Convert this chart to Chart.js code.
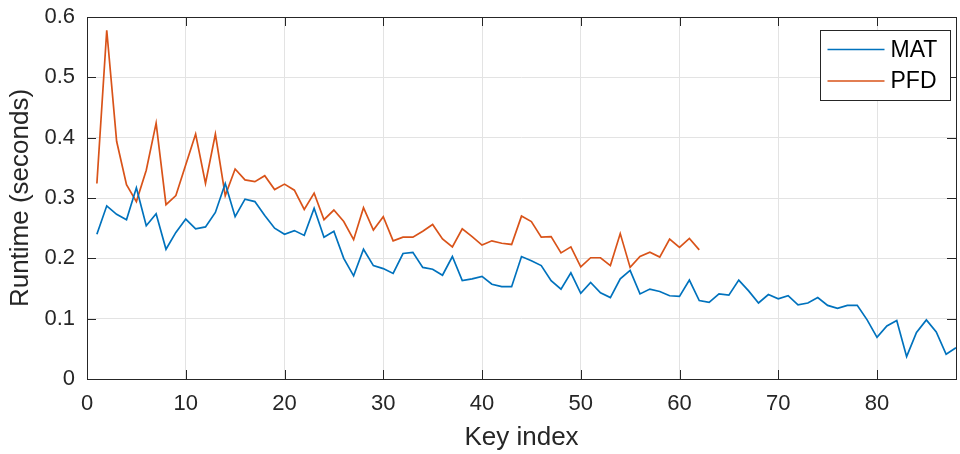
<!DOCTYPE html>
<html>
<head>
<meta charset="utf-8">
<script src="https://cdn.jsdelivr.net/npm/chart.js@4"></script>
<style>
    html, body { margin: 0; padding: 0; background: #fff; }
    #runtimeChart { display: block; }
</style>
</head>
<body>
<canvas id="runtimeChart" width="960" height="454"></canvas>
<script>
// runtime per key, in seconds
const matRuntime = [
    0.240, 0.287, 0.273, 0.264, 0.317, 0.254, 0.274, 0.215, 0.243, 0.265,
    0.249, 0.252, 0.276, 0.324, 0.269, 0.298, 0.294, 0.271, 0.250, 0.240,
    0.246, 0.238, 0.283, 0.235, 0.245, 0.200, 0.171, 0.215, 0.188, 0.183,
    0.175, 0.208, 0.210, 0.185, 0.182, 0.172, 0.203, 0.163, 0.166, 0.170,
    0.157, 0.153, 0.153, 0.203, 0.196, 0.188, 0.163, 0.149, 0.176, 0.142,
    0.160, 0.143, 0.135, 0.166, 0.180, 0.141, 0.149, 0.145, 0.138, 0.137,
    0.164, 0.130, 0.127, 0.141, 0.139, 0.164, 0.146, 0.126, 0.140, 0.133,
    0.138, 0.123, 0.126, 0.135, 0.122, 0.117, 0.122, 0.122, 0.098, 0.069,
    0.088, 0.097, 0.037, 0.077, 0.098, 0.078, 0.041, 0.052
];
const pfdRuntime = [
    0.324, 0.578, 0.394, 0.322, 0.294, 0.346, 0.424, 0.289, 0.304, 0.355,
    0.406, 0.324, 0.406, 0.304, 0.348, 0.330, 0.327, 0.337, 0.314, 0.323,
    0.313, 0.281, 0.308, 0.264, 0.280, 0.261, 0.231, 0.284, 0.247, 0.269,
    0.229, 0.235, 0.235, 0.245, 0.256, 0.232, 0.219, 0.249, 0.236, 0.222,
    0.229, 0.225, 0.223, 0.270, 0.261, 0.235, 0.236, 0.209, 0.219, 0.186,
    0.201, 0.201, 0.188, 0.241, 0.185, 0.203, 0.210, 0.202, 0.232, 0.218,
    0.233, 0.214
];
const seriesNames = ["MAT", "PFD"];
const seriesColors = ["#0072BD", "#D95319"];
const xTicks = [0, 10, 20, 30, 40, 50, 60, 70, 80];
const yTicks = [0, 0.1, 0.2, 0.3, 0.4, 0.5, 0.6];

const axisColor = "#262626";
const fontFamily = "'Liberation Sans', Arial, Helvetica, sans-serif";

function toPoints(values) {
    return values.map((v, i) => ({ x: i + 1, y: v }));
}

// box around the axes with inward tick marks on all four sides
const axesBox = {
    id: "axesBox",
    afterDatasetsDraw(chart) {
        const { ctx, chartArea: a, scales } = chart;
        const len = 9;
        ctx.save();
        ctx.strokeStyle = axisColor;
        ctx.lineWidth = 1;
        ctx.beginPath();
        xTicks.forEach(t => {
            const x = Math.round(scales.x.getPixelForValue(t)) + 0.5;
            ctx.moveTo(x, a.bottom);
            ctx.lineTo(x, a.bottom - len);
            ctx.moveTo(x, a.top);
            ctx.lineTo(x, a.top + len);
        });
        yTicks.forEach(t => {
            const y = Math.round(scales.y.getPixelForValue(t)) + 0.5;
            ctx.moveTo(a.left, y);
            ctx.lineTo(a.left + len, y);
            ctx.moveTo(a.right, y);
            ctx.lineTo(a.right - len, y);
        });
        ctx.stroke();
        ctx.strokeRect(Math.round(a.left) + 0.5, Math.round(a.top) + 0.5,
            Math.round(a.right - a.left), Math.round(a.bottom - a.top));
        ctx.restore();
    }
};

// legend box in the upper right corner of the plot
const boxLegend = {
    id: "boxLegend",
    afterDraw(chart) {
        const { ctx, chartArea: a } = chart;
        const w = 130, h = 70;
        const x0 = Math.round(a.right - 6 - w) + 0.5;
        const y0 = Math.round(a.top + 13) + 0.5;
        ctx.save();
        ctx.fillStyle = "#fff";
        ctx.fillRect(x0, y0, w, h);
        ctx.strokeStyle = axisColor;
        ctx.lineWidth = 1;
        ctx.strokeRect(x0, y0, w, h);
        ctx.font = "23px " + fontFamily;
        ctx.textBaseline = "middle";
        chart.data.datasets.forEach((ds, i) => {
            const y = y0 + 19 + i * 31.5;
            ctx.strokeStyle = ds.borderColor;
            ctx.lineWidth = 1.7;
            ctx.beginPath();
            ctx.moveTo(x0 + 7, y);
            ctx.lineTo(x0 + 64, y);
            ctx.stroke();
            ctx.fillStyle = "#000";
            ctx.fillText(ds.label, x0 + 70, y + 1);
        });
        ctx.restore();
    }
};

new Chart(document.getElementById("runtimeChart"), {
    type: "line",
    data: {
        datasets: [
            {
                label: seriesNames[0],
                data: toPoints(matRuntime),
                borderColor: seriesColors[0],
                borderWidth: 1.7,
                pointRadius: 0,
                tension: 0,
                fill: false
            },
            {
                label: seriesNames[1],
                data: toPoints(pfdRuntime),
                borderColor: seriesColors[1],
                borderWidth: 1.7,
                pointRadius: 0,
                tension: 0,
                fill: false
            }
        ]
    },
    options: {
        responsive: false,
        devicePixelRatio: 1,
        animation: false,
        layout: { padding: { top: 17, right: 4, left: 0, bottom: 0 } },
        plugins: {
            legend: { display: false },
            tooltip: { enabled: false }
        },
        scales: {
            x: {
                type: "linear",
                min: 0,
                max: 88,
                afterFit: s => { s.height = 75; s.paddingLeft = 0; s.paddingRight = 0; },
                afterBuildTicks: s => { s.ticks = xTicks.map(v => ({ value: v })); },
                grid: { color: "#e3e3e3", drawTicks: false },
                border: { display: false },
                ticks: {
                    includeBounds: false,
                    padding: 12,
                    color: "#262626",
                    maxRotation: 0,
                    font: { family: fontFamily, size: 22 }
                },
                title: {
                    display: true,
                    text: "Key index",
                    color: "#262626",
                    padding: { top: 0, bottom: 1 },
                    font: { family: fontFamily, size: 26 }
                }
            },
            y: {
                min: 0,
                max: 0.6,
                afterFit: s => { s.width = 87; s.paddingTop = 0; s.paddingBottom = 0; },
                afterBuildTicks: s => { s.ticks = yTicks.map(v => ({ value: v })); },
                grid: { color: "#e3e3e3", drawTicks: false },
                border: { display: false },
                ticks: {
                    padding: 12,
                    color: "#262626",
                    font: { family: fontFamily, size: 22 },
                    callback: v => (v === 0 ? "0" : v.toFixed(1))
                },
                title: {
                    display: true,
                    text: "Runtime (seconds)",
                    color: "#262626",
                    padding: { top: 5, bottom: 0 },
                    font: { family: fontFamily, size: 26 }
                }
            }
        }
    },
    plugins: [axesBox, boxLegend]
});
</script>
</body>
</html>
